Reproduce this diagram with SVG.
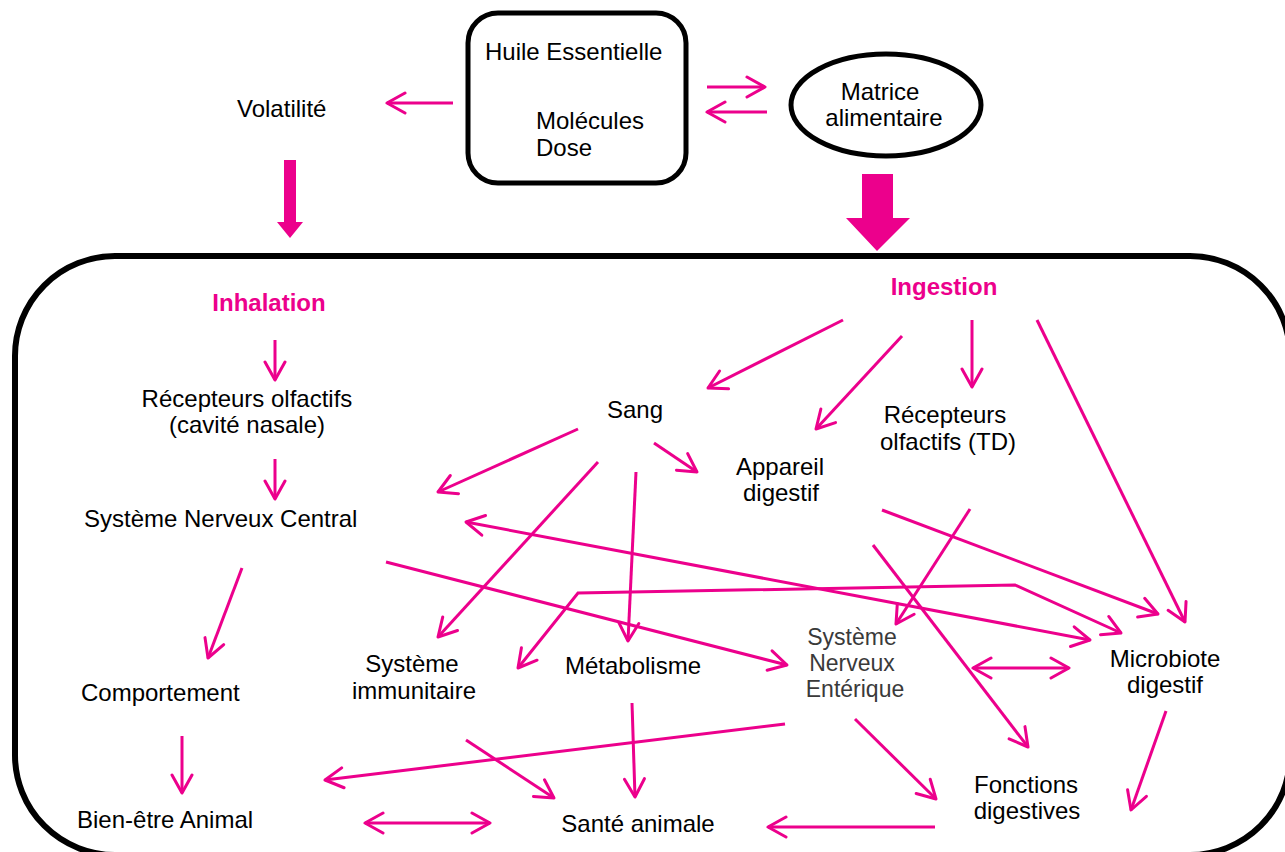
<svg xmlns="http://www.w3.org/2000/svg" width="1285" height="852" viewBox="0 0 1285 852">
<defs>
<style>
.t{font-family:"Liberation Sans",Arial,sans-serif;font-size:24px;fill:#000}
.m{text-anchor:middle}
.h{font-family:"Liberation Sans",Arial,sans-serif;font-size:24px;font-weight:bold;fill:#EC008C;text-anchor:middle}
.g{font-family:"Liberation Sans",Arial,sans-serif;font-size:23px;fill:#3a3a3a;text-anchor:middle}
.c{fill:none;stroke:#EC008C;stroke-width:3;marker-end:url(#ah)}
.b{marker-start:url(#ah)}
.blk{fill:none;stroke:#000}
.fat{fill:#EC008C}
</style>
<marker id="ah" viewBox="0 0 24 24" refX="21" refY="12" markerWidth="24" markerHeight="24" markerUnits="userSpaceOnUse" orient="auto-start-reverse">
<path d="M3,2 L21,12 L3,22" fill="none" stroke="#EC008C" stroke-width="3" stroke-linecap="round" stroke-linejoin="round"/>
</marker>
</defs>
<rect width="1285" height="852" fill="#fff"/>

<g id="frame"><rect class="blk" x="15" y="256" width="1275" height="599" rx="100" ry="100" stroke-width="6"/></g>

<g id="huile"><rect class="blk" x="468" y="13" width="218" height="170" rx="30" ry="30" stroke-width="5"/>
<text class="t" x="485" y="60">Huile Essentielle</text>
<text class="t" x="536" y="129">Molécules</text>
<text class="t" x="536" y="156">Dose</text></g>

<g id="matrice"><ellipse class="blk" cx="886" cy="105" rx="95" ry="51" stroke-width="5"/>
<text class="t m" x="880" y="100">Matrice</text>
<text class="t m" x="884" y="126">alimentaire</text></g>

<g id="volatilite"><text class="t" x="237" y="117">Volatilité</text></g>
<g id="inhalation"><text class="h" x="269" y="311">Inhalation</text></g>
<g id="ingestion"><text class="h" x="944" y="295">Ingestion</text></g>
<g id="recepteurs-nasal"><text class="t m" x="247" y="407">Récepteurs olfactifs</text><text class="t m" x="247" y="433">(cavité nasale)</text></g>
<g id="snc"><text class="t" x="84" y="527">Système Nerveux Central</text></g>
<g id="comportement"><text class="t" x="81" y="701">Comportement</text></g>
<g id="bien-etre"><text class="t" x="77" y="828">Bien-être Animal</text></g>
<g id="sang"><text class="t m" x="635" y="418">Sang</text></g>
<g id="recepteurs-td"><text class="t m" x="945" y="423">Récepteurs</text><text class="t m" x="948" y="450">olfactifs (TD)</text></g>
<g id="appareil"><text class="t m" x="780" y="475">Appareil</text><text class="t m" x="781" y="501">digestif</text></g>
<g id="immunitaire"><text class="t m" x="412" y="672">Système</text><text class="t m" x="414" y="699">immunitaire</text></g>
<g id="metabolisme"><text class="t m" x="633" y="674">Métabolisme</text></g>
<g id="sne"><text class="g" x="852" y="645">Système</text><text class="g" x="852" y="671">Nerveux</text><text class="g" x="855" y="697">Entérique</text></g>
<g id="microbiote"><text class="t m" x="1165" y="667">Microbiote</text><text class="t m" x="1165" y="693">digestif</text></g>
<g id="fonctions"><text class="t m" x="1026" y="793">Fonctions</text><text class="t m" x="1027" y="819">digestives</text></g>
<g id="sante"><text class="t m" x="638" y="832">Santé animale</text></g>

<g id="connectors">
<polygon class="fat" points="284,160 296,160 296,222 303,222 290,238 277,222 284,222"/>
<polygon class="fat" points="862,174 893,174 893,218 910,218 877,251 846,218 862,218"/>
<path class="c" d="M453,103 L387,103"/>
<path class="c" d="M707,87 L765,87"/>
<path class="c" d="M767,112 L707,112"/>
<path class="c" d="M275,340 L275,380"/>
<path class="c" d="M275,459 L275,499"/>
<path class="c" d="M242,568 L208,658"/>
<path class="c" d="M182,736 L182,793"/>
<path class="c" d="M843,320 L708,388"/>
<path class="c" d="M902,336 L816,429"/>
<path class="c" d="M972,320 L972,387"/>
<path class="c" d="M1037,320 L1185,622"/>
<path class="c" d="M654,443 L697,472"/>
<path class="c" d="M578,429 L438,492"/>
<path class="c" d="M598,462 L438,637"/>
<path class="c" d="M636,472 L628,641"/>
<path class="c" d="M882,510 L1158,614"/>
<path class="c" d="M970,509 L896,624"/>
<path class="c" d="M873,545 L1028,747"/>
<path class="c b" d="M466,522 L1090,640"/>
<path class="c b" d="M518,668 L578,593 L1015,585 L1121,633"/>
<path class="c" d="M386,562 L787,665"/>
<path class="c b" d="M973,668 L1069,668"/>
<path class="c" d="M855,719 L936,799"/>
<path class="c" d="M1166,711 L1131,810"/>
<path class="c" d="M935,827 L768,827"/>
<path class="c b" d="M365,823 L490,823"/>
<path class="c" d="M466,740 L554,798"/>
<path class="c" d="M632,703 L635,797"/>
<path class="c" d="M785,724 L325,780"/>
</g>
</svg>
